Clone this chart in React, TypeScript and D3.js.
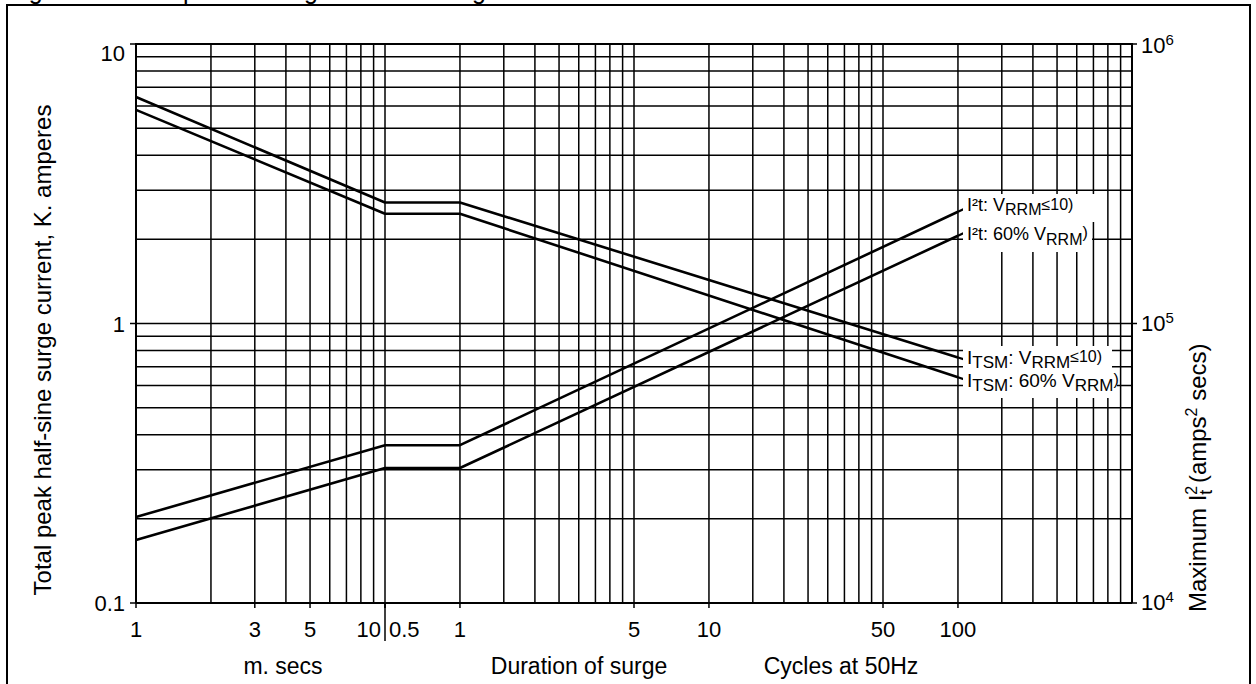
import React from 'react';
import * as d3 from 'd3';

const W = 1256;
const H = 684;

// Duration of surge, expressed in cycles at 50 Hz (1 ms = 0.05 cycles)
const durationsCycles = [0.05, 0.5, 1, 100];
// Peak half-sine surge current, kA
const itsmVrrm10 = [6.46, 2.71, 2.71, 0.756];
const itsm60 = [5.81, 2.47, 2.47, 0.642];
// Maximum I2t, amps^2 secs
const i2tVrrm10 = [20300, 36700, 36700, 251000];
const i2t60 = [16800, 30400, 30400, 206000];

// Grid / tick values
const msGrid = [1, 2, 3, 4, 5, 6, 7, 8, 9, 10];
const cycleGrid = [
  1, 1.5, 2, 2.5, 3, 3.5, 4, 4.5, 5,
  10, 15, 20, 25, 30, 35, 40, 45, 50,
  100, 150, 200, 250, 300, 350, 400, 450, 500,
];
const currentGrid = [
  0.1, 0.2, 0.3, 0.4, 0.5, 0.6, 0.7, 0.8, 0.9,
  1, 2, 3, 4, 5, 6, 7, 8, 9, 10,
];
const leftTickValues = [10, 1, 0.1];
const leftTickLabels = ['10', '1', '0.1'];
const rightTickValues = [1e6, 1e5, 1e4];
const rightTickExponents = ['6', '5', '4'];
const msTickLabels = [1, 3, 5, 10];
const cycleTickLabels = [0.5, 1, 5, 10, 50, 100];

const MS_PER_CYCLE = 20;
const FONT = '"Liberation Sans", Arial, Helvetica, sans-serif';

export default function App() {
  const x = d3.scaleLog().domain([0.05, 500]).range([136, 1132]);
  const y = d3.scaleLog().domain([0.1, 10]).range([603, 44]);
  const yR = d3.scaleLog().domain([1e4, 1e6]).range([603, 44]);
  const left = x(0.05);
  const right = x(500);
  const top = y(10);
  const bottom = y(0.1);

  const lineI = d3
    .line<[number, number]>()
    .x((d) => x(d[0]))
    .y((d) => y(d[1]));
  const lineR = d3
    .line<[number, number]>()
    .x((d) => x(d[0]))
    .y((d) => yR(d[1]));

  const zip = (vals: number[]) => durationsCycles.map((t, i) => [t, vals[i]] as [number, number]);

  const labelX = 967;

  // leader from last data point along the same log slope up to the label
  const leader = (vals: number[], sc: d3.ScaleLogarithmic<number, number>) => {
    const n = durationsCycles.length;
    const t1 = durationsCycles[n - 2];
    const t2 = durationsCycles[n - 1];
    const v1 = vals[n - 2];
    const v2 = vals[n - 1];
    const slope = Math.log(v2 / v1) / Math.log(t2 / t1);
    const t3 = x.invert(labelX - 2);
    const v3 = v2 * Math.pow(t3 / t2, slope);
    return { x1: x(t2), y1: sc(v2), x2: x(t3), y2: sc(v3) };
  };

  const curves = [
    { d: lineI(zip(itsmVrrm10)), l: leader(itsmVrrm10, y) },
    { d: lineI(zip(itsm60)), l: leader(itsm60, y) },
    { d: lineR(zip(i2tVrrm10)), l: leader(i2tVrrm10, yR) },
    { d: lineR(zip(i2t60)), l: leader(i2t60, yR) },
  ];

  const sep = x(0.5);
  const gridW = 1.5;

  return (
    <svg
      width={W}
      height={H}
      viewBox={`0 0 ${W} ${H}`}
      style={{ position: 'absolute', left: 0, top: 0, background: '#fff' }}
      fontFamily={FONT}
    >
      <rect x={0} y={0} width={W} height={H} fill="#fff" />
      {/* figure caption, cut off by the top edge as in the scan */}
      <text x={8} y={-1} fontSize={25} fill="#000">
        Figure 6 Non-repetitive surge current ratings
      </text>
      {/* outer frame */}
      <rect x={7} y={5} width={1243} height={720} fill="none" stroke="#000" strokeWidth={2} />

      {/* horizontal grid */}
      {currentGrid.map((v) => (
        <line key={'h' + v} x1={left} x2={right} y1={y(v)} y2={y(v)} stroke="#000" strokeWidth={gridW} />
      ))}
      {/* vertical grid: ms section */}
      {msGrid.map((m) => (
        <line
          key={'vm' + m}
          x1={x(m / MS_PER_CYCLE)}
          x2={x(m / MS_PER_CYCLE)}
          y1={top}
          y2={bottom}
          stroke="#000"
          strokeWidth={gridW}
        />
      ))}
      {/* vertical grid: cycles section */}
      {cycleGrid.map((c) => (
        <line key={'vc' + c} x1={x(c)} x2={x(c)} y1={top} y2={bottom} stroke="#000" strokeWidth={gridW} />
      ))}
      {/* plot border */}
      <line x1={left - 1} x2={right + 1} y1={top} y2={top} stroke="#000" strokeWidth={2.2} />
      <line x1={left} x2={left} y1={top} y2={bottom} stroke="#000" strokeWidth={2} />
      <line x1={right} x2={right} y1={top} y2={bottom} stroke="#000" strokeWidth={2} />
      <line x1={left} x2={right} y1={bottom} y2={bottom} stroke="#000" strokeWidth={2} />

      {/* left ticks + labels */}
      {leftTickValues.map((v, i) => (
        <g key={'lt' + v}>
          <line x1={left - 6} x2={left} y1={y(v)} y2={y(v)} stroke="#000" strokeWidth={1.5} />
          <text
            x={left - 11}
            y={y(v) + (i === 0 ? 17 : 8)}
            textAnchor="end"
            fontSize={22}
            fill="#000"
          >
            {leftTickLabels[i]}
          </text>
        </g>
      ))}
      {/* right ticks + labels */}
      {rightTickValues.map((v, i) => (
        <g key={'rt' + v}>
          <line x1={right} x2={right + 5} y1={yR(v)} y2={yR(v)} stroke="#000" strokeWidth={1.5} />
          <text x={right + 9} y={yR(v) + (i === 0 ? 9 : 7)} fontSize={22} fill="#000">
            10
            <tspan fontSize={15} dy={-8}>
              {rightTickExponents[i]}
            </tspan>
          </text>
        </g>
      ))}

      {/* bottom ticks + labels */}
      {msTickLabels.map((m) => {
        const px = x(m / MS_PER_CYCLE);
        const isLast = m === 10;
        return (
          <g key={'bm' + m}>
            <line x1={px} x2={px} y1={bottom} y2={bottom + 5} stroke="#000" strokeWidth={1.5} />
            <text
              x={isLast ? px - 4 : px}
              y={bottom + 34}
              textAnchor={isLast ? 'end' : 'middle'}
              fontSize={22}
              fill="#000"
            >
              {m}
            </text>
          </g>
        );
      })}
      {cycleTickLabels.map((c) => {
        const px = x(c);
        const isFirst = c === 0.5;
        return (
          <g key={'bc' + c}>
            <line x1={px} x2={px} y1={bottom} y2={bottom + 5} stroke="#000" strokeWidth={1.5} />
            <text
              x={isFirst ? px + 4 : px}
              y={bottom + 34}
              textAnchor={isFirst ? 'start' : 'middle'}
              fontSize={22}
              fill="#000"
            >
              {c}
            </text>
          </g>
        );
      })}
      {/* 10 | 0.5 separator */}
      <line x1={sep} x2={sep} y1={bottom} y2={bottom + 38} stroke="#000" strokeWidth={1.5} />

      {/* bottom titles */}
      <text x={283} y={bottom + 71} textAnchor="middle" fontSize={23} fill="#000">
        m. secs
      </text>
      <text x={579} y={bottom + 71} textAnchor="middle" fontSize={23} fill="#000">
        Duration of surge
      </text>
      <text x={841} y={bottom + 71} textAnchor="middle" fontSize={23} fill="#000">
        Cycles at 50Hz
      </text>

      {/* left axis title */}
      <text
        transform={`translate(51, 350) rotate(-90)`}
        textAnchor="middle"
        fontSize={24}
        fill="#000"
      >
        Total peak half-sine surge current, K. amperes
      </text>
      {/* right axis title */}
      <text transform={`translate(1206, 612) rotate(-90)`} fontSize={24} fill="#000">
        Maximum I
        <tspan fontSize={16} dy={-9}>
          2
        </tspan>
        <tspan fontSize={18} dy={15} dx={-9}>
          t
        </tspan>
        <tspan dy={-6}> (amps</tspan>
        <tspan fontSize={16} dy={-9}>
          2
        </tspan>
        <tspan dy={9}> secs)</tspan>
      </text>

      {/* curves */}
      {curves.map((c, i) => (
        <g key={'c' + i}>
          <path d={c.d || ''} fill="none" stroke="#000" strokeWidth={2.6} strokeLinejoin="round" />
          <line x1={c.l.x1} y1={c.l.y1} x2={c.l.x2} y2={c.l.y2} stroke="#000" strokeWidth={2.2} />
        </g>
      ))}

      {/* label backgrounds */}
      <rect x={963} y={194} width={135} height={28} fill="#fff" />
      <rect x={963} y={222} width={129} height={30} fill="#fff" />
      <rect x={963} y={346} width={149} height={26} fill="#fff" />
      <rect x={963} y={372} width={154} height={26} fill="#fff" />

      {/* curve labels */}
      <text x={labelX} y={211} fontSize={18} fill="#000">
        I²t: V
        <tspan fontSize={16} dy={4}>
          RRM
        </tspan>
        <tspan fontSize={16} dy={-5}>
          ≤10)
        </tspan>
      </text>
      <text x={labelX} y={240} fontSize={18} fill="#000">
        I²t: 60% V
        <tspan fontSize={16} dy={5}>
          RRM
        </tspan>
        <tspan fontSize={16} dy={-7}>
          )
        </tspan>
      </text>
      <text x={labelX} y={364} fontSize={19} fill="#000">
        I
        <tspan fontSize={17} dy={4}>
          TSM
        </tspan>
        <tspan dy={-4}>: V</tspan>
        <tspan fontSize={17} dy={4}>
          RRM
        </tspan>
        <tspan fontSize={16} dy={-6}>
          ≤10)
        </tspan>
      </text>
      <text x={labelX} y={387} fontSize={19} fill="#000">
        I
        <tspan fontSize={17} dy={4}>
          TSM
        </tspan>
        <tspan dy={-4}>: 60% V</tspan>
        <tspan fontSize={17} dy={4}>
          RRM
        </tspan>
        <tspan fontSize={16} dy={-6}>
          )
        </tspan>
      </text>
    </svg>
  );
}
